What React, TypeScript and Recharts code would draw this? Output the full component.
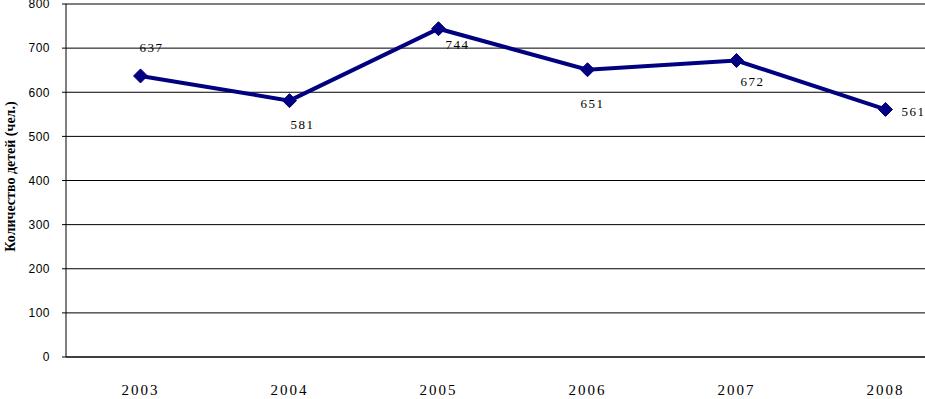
import React from 'react';
import { LineChart, Line, XAxis, YAxis, CartesianGrid, LabelList } from 'recharts';

const years = ['2003', '2004', '2005', '2006', '2007', '2008'];
const counts = [637, 581, 744, 651, 672, 561];
const yTicks = [0, 100, 200, 300, 400, 500, 600, 700, 800];
const yTitle = 'Количество детей (чел.)';

const data = years.map((y, i) => ({ year: y, count: counts[i] }));

// per-point label offsets (dx, dy) relative to the marker
const labelOffsets: [number, number][] = [
  [11, -28],
  [13, 24],
  [19, 16],
  [5, 34],
  [16, 21],
  [28, 2],
];

const NAVY = '#000080';

const Diamond = (props: any) => {
  const { cx, cy, index } = props;
  if (cx == null || cy == null) return null;
  const r = 7;
  return (
    <path
      key={`d-${index}`}
      d={`M${cx},${cy - r}L${cx + r},${cy}L${cx},${cy + r}L${cx - r},${cy}Z`}
      fill={NAVY}
      stroke={NAVY}
      strokeWidth={1}
    />
  );
};

const DataLabel = (props: any) => {
  const { x, y, value, index } = props;
  const off = labelOffsets[index] || [0, -12];
  return (
    <text
      x={x + off[0]}
      y={y + off[1]}
      textAnchor="middle"
      dominantBaseline="central"
      fontFamily="'Liberation Serif', 'Times New Roman', serif"
      fontSize={13}
      letterSpacing={1.5}
      fill="#000"
    >
      {value}
    </text>
  );
};

const YTitle = (props: any) => {
  const vb = props.viewBox || {};
  const cx = 10;
  const cy = (vb.y ?? 0) + (vb.height ?? 0) / 2 - 4;
  return (
    <text
      x={cx}
      y={cy}
      transform={`rotate(-90, ${cx}, ${cy})`}
      textAnchor="middle"
      dominantBaseline="central"
      fontFamily="'Liberation Serif', 'Times New Roman', serif"
      fontWeight="bold"
      fontSize={14}
      fill="#000"
    >
      {yTitle}
    </text>
  );
};

export default function App() {
  return (
    <div
      style={{
        position: 'absolute',
        left: 0,
        top: 0,
        width: 925,
        height: 399,
        overflow: 'hidden',
        background: '#fff',
      }}
    >
      <LineChart
        width={970}
        height={399}
        data={data}
        margin={{ top: 4, right: 10, bottom: 0, left: 0 }}
      >
        <CartesianGrid vertical={false} stroke="#000" strokeWidth={1} />
        <XAxis
          dataKey="year"
          scale="band"
          height={42}
          axisLine={{ stroke: '#000', strokeWidth: 1 }}
          tickLine={false}
          tickSize={0}
          tickMargin={27}
          tick={{
            fill: '#000',
            fontSize: 15,
            fontFamily: "'Liberation Serif', 'Times New Roman', serif",
            letterSpacing: 2,
          }}
          interval={0}
        />
        <YAxis
          width={66}
          domain={[0, 800]}
          ticks={yTicks}
          interval={0}
          axisLine={{ stroke: '#000', strokeWidth: 1 }}
          tickLine={{ stroke: '#000', strokeWidth: 1 }}
          tickSize={4}
          tickMargin={12}
          tick={{
            fill: '#000',
            fontSize: 12,
            fontFamily: "'Liberation Sans', Arial, sans-serif",
            letterSpacing: 0.5,
          }}
          label={{ content: (p: any) => <YTitle {...p} /> }}
        />
        <Line
          type="linear"
          dataKey="count"
          stroke={NAVY}
          strokeWidth={4}
          dot={(p: any) => <Diamond {...p} />}
          activeDot={false}
          isAnimationActive={false}
        >
          <LabelList dataKey="count" content={(p: any) => <DataLabel {...p} />} />
        </Line>
      </LineChart>
    </div>
  );
}
